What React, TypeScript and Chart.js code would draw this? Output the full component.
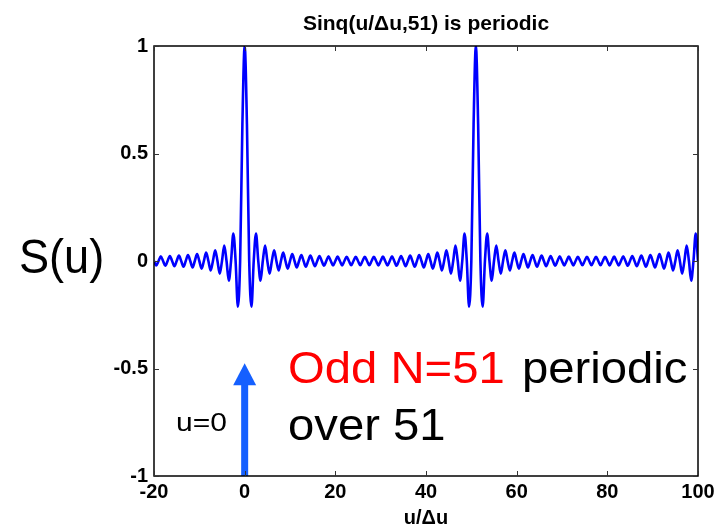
import React, { useEffect, useRef } from "react";
import { Chart, registerables } from "chart.js";

Chart.register(...registerables);

// ---- data ----
const uValues = [
  -20, -19.5, -19, -18.5, -18, -17.5, -17, -16.5, -16, -15.5, -15, -14.5, -14, -13.5, -13, -12.5, -12, -11.5, -11, -10.5,
  -10, -9.5, -9, -8.5, -8, -7.5, -7, -6.5, -6, -5.5, -5, -4.5, -4, -3.5, -3, -2.5, -2, -1.5, -1, -0.5,
  0, 0.5, 1, 1.5, 2, 2.5, 3, 3.5, 4, 4.5, 5, 5.5, 6, 6.5, 7, 7.5, 8, 8.5, 9, 9.5,
  10, 10.5, 11, 11.5, 12, 12.5, 13, 13.5, 14, 14.5, 15, 15.5, 16, 16.5, 17, 17.5, 18, 18.5, 19, 19.5,
  20, 20.5, 21, 21.5, 22, 22.5, 23, 23.5, 24, 24.5, 25, 25.5, 26, 26.5, 27, 27.5, 28, 28.5, 29, 29.5,
  30, 30.5, 31, 31.5, 32, 32.5, 33, 33.5, 34, 34.5, 35, 35.5, 36, 36.5, 37, 37.5, 38, 38.5, 39, 39.5,
  40, 40.5, 41, 41.5, 42, 42.5, 43, 43.5, 44, 44.5, 45, 45.5, 46, 46.5, 47, 47.5, 48, 48.5, 49, 49.5,
  50, 50.5, 51, 51.5, 52, 52.5, 53, 53.5, 54, 54.5, 55, 55.5, 56, 56.5, 57, 57.5, 58, 58.5, 59, 59.5,
  60, 60.5, 61, 61.5, 62, 62.5, 63, 63.5, 64, 64.5, 65, 65.5, 66, 66.5, 67, 67.5, 68, 68.5, 69, 69.5,
  70, 70.5, 71, 71.5, 72, 72.5, 73, 73.5, 74, 74.5, 75, 75.5, 76, 76.5, 77, 77.5, 78, 78.5, 79, 79.5,
  80, 80.5, 81, 81.5, 82, 82.5, 83, 83.5, 84, 84.5, 85, 85.5, 86, 86.5, 87, 87.5, 88, 88.5, 89, 89.5,
  90, 90.5, 91, 91.5, 92, 92.5, 93, 93.5, 94, 94.5, 95, 95.5, 96, 96.5, 97, 97.5, 98, 98.5, 99, 99.5,
  100,
];

const sValues = [
  0, -0.021, 0, 0.0216, 0, -0.0223, 0, 0.0231, 0, -0.024, 0, 0.0252, 0, -0.0265, 0, 0.0282, 0, -0.0301, 0, 0.0325,
  0, -0.0355, 0, 0.0392, 0, -0.044, 0, 0.0503, 0, -0.059, 0, 0.0716, 0, -0.0917, 0, 0.1278, 0, -0.2125, 0, 0.637,
  1, 0.637, 0, -0.2125, 0, 0.1278, 0, -0.0917, 0, 0.0716, 0, -0.059, 0, 0.0503, 0, -0.044, 0, 0.0392, 0, -0.0355,
  0, 0.0325, 0, -0.0301, 0, 0.0282, 0, -0.0265, 0, 0.0252, 0, -0.024, 0, 0.0231, 0, -0.0223, 0, 0.0216, 0, -0.021,
  0, 0.0206, 0, -0.0202, 0, 0.0199, 0, -0.0198, 0, 0.0196, 0, -0.0196, 0, 0.0196, 0, -0.0198, 0, 0.0199, 0, -0.0202,
  0, 0.0206, 0, -0.021, 0, 0.0216, 0, -0.0223, 0, 0.0231, 0, -0.024, 0, 0.0252, 0, -0.0265, 0, 0.0282, 0, -0.0301,
  0, 0.0325, 0, -0.0355, 0, 0.0392, 0, -0.044, 0, 0.0503, 0, -0.059, 0, 0.0716, 0, -0.0917, 0, 0.1278, 0, -0.2125,
  0, 0.637, 1, 0.637, 0, -0.2125, 0, 0.1278, 0, -0.0917, 0, 0.0716, 0, -0.059, 0, 0.0503, 0, -0.044, 0, 0.0392,
  0, -0.0355, 0, 0.0325, 0, -0.0301, 0, 0.0282, 0, -0.0265, 0, 0.0252, 0, -0.024, 0, 0.0231, 0, -0.0223, 0, 0.0216,
  0, -0.021, 0, 0.0206, 0, -0.0202, 0, 0.0199, 0, -0.0198, 0, 0.0196, 0, -0.0196, 0, 0.0196, 0, -0.0198, 0, 0.0199,
  0, -0.0202, 0, 0.0206, 0, -0.021, 0, 0.0216, 0, -0.0223, 0, 0.0231, 0, -0.024, 0, 0.0252, 0, -0.0265, 0, 0.0282,
  0, -0.0301, 0, 0.0325, 0, -0.0355, 0, 0.0392, 0, -0.044, 0, 0.0503, 0, -0.059, 0, 0.0716, 0, -0.0917, 0, 0.1278,
  0,
];

const xTicks = [-20, 0, 20, 40, 60, 80, 100];
const yTicks = [-1, -0.5, 0, 0.5, 1];

const titleText = "Sinq(u/\u0394u,51) is periodic";
const xLabel = "u/\u0394u";
const yLabel = "S(u)";
const arrowLabel = "u=0";
const noteRed = "Odd N=51";
const noteBlack1 = "periodic";
const noteBlack2 = "over 51";

// arrow: at u = 0, from the bottom of the axes up to this value
const arrowU = 0;
const arrowFrom = -1;
const arrowTo = -0.475;

// ---- styles ----
const SANS = "'Liberation Sans', Arial, Helvetica, sans-serif";
const CURVE_COLOR = "#0000ff";
const ARROW_COLOR = "#1560ff";

const overlayPlugin = {
  id: "overlay",
  afterDatasetsDraw(chart: any) {
    const { ctx, chartArea } = chart;
    const { left, right, top, bottom } = chartArea;
    const xs = chart.scales.x;
    const ys = chart.scales.y;
    ctx.save();

    // arrow at u=0
    const ax = xs.getPixelForValue(arrowU);
    const ay0 = ys.getPixelForValue(arrowFrom);
    const ay1 = ys.getPixelForValue(arrowTo);
    const headH = 22;
    const headW = 23;
    const shaftW = 7;
    ctx.fillStyle = ARROW_COLOR;
    ctx.fillRect(ax - shaftW / 2, ay1 + headH - 1, shaftW, ay0 - (ay1 + headH - 1));
    ctx.beginPath();
    ctx.moveTo(ax, ay1);
    ctx.lineTo(ax + headW / 2, ay1 + headH);
    ctx.lineTo(ax - headW / 2, ay1 + headH);
    ctx.closePath();
    ctx.fill();

    // box
    ctx.strokeStyle = "#000";
    ctx.lineWidth = 1.5;
    ctx.strokeRect(left, top, right - left, bottom - top);

    // inward ticks on all four sides
    ctx.lineWidth = 1;
    ctx.strokeStyle = "#333";
    const tl = 5;
    ctx.beginPath();
    xTicks.forEach((v) => {
      const px = Math.round(xs.getPixelForValue(v)) + 0.5;
      ctx.moveTo(px, bottom);
      ctx.lineTo(px, bottom - tl);
      ctx.moveTo(px, top);
      ctx.lineTo(px, top + tl);
    });
    yTicks.forEach((v) => {
      const py = Math.round(ys.getPixelForValue(v)) + 0.5;
      ctx.moveTo(left, py);
      ctx.lineTo(left + tl, py);
      ctx.moveTo(right, py);
      ctx.lineTo(right - tl, py);
    });
    ctx.stroke();
    ctx.restore();
  },
  afterDraw(chart: any) {
    const { ctx, chartArea } = chart;
    const { left, right } = chartArea;
    ctx.save();
    ctx.textBaseline = "alphabetic";

    // title
    ctx.fillStyle = "#000";
    ctx.textAlign = "center";
    ctx.font = `bold 21px ${SANS}`;
    ctx.fillText(titleText, (left + right) / 2, 30);

    ctx.textAlign = "left";

    // S(u)
    ctx.save();
    ctx.translate(19, 273);
    ctx.scale(0.94, 1);
    ctx.font = `48px ${SANS}`;
    ctx.fillText(yLabel, 0, 0);
    ctx.restore();

    // u=0
    ctx.save();
    ctx.translate(176, 431);
    ctx.scale(1.2, 1);
    ctx.font = `25px ${SANS}`;
    ctx.fillText(arrowLabel, 0, 0);
    ctx.restore();

    // Odd N=51 periodic / over 51
    ctx.save();
    ctx.translate(288, 383);
    ctx.scale(1.05, 1);
    ctx.font = `45px ${SANS}`;
    ctx.fillStyle = "#ff0000";
    ctx.fillText(noteRed, 0, 0);
    ctx.restore();

    ctx.save();
    ctx.translate(522, 383);
    ctx.scale(1.05, 1);
    ctx.font = `45px ${SANS}`;
    ctx.fillStyle = "#000";
    ctx.fillText(noteBlack1, 0, 0);
    ctx.restore();

    ctx.save();
    ctx.translate(288, 440);
    ctx.scale(1.05, 1);
    ctx.font = `45px ${SANS}`;
    ctx.fillStyle = "#000";
    ctx.fillText(noteBlack2, 0, 0);
    ctx.restore();

    ctx.restore();
  },
};

export default function App() {
  const ref = useRef<HTMLCanvasElement>(null);

  useEffect(() => {
    const canvas = ref.current;
    if (!canvas) return;
    const tickFont = { family: SANS, size: 20, weight: "bold" as const };
    const chart = new Chart(canvas, {
      type: "line",
      data: {
        datasets: [
          {
            data: uValues.map((u, i) => ({ x: u, y: sValues[i] })),
            borderColor: CURVE_COLOR,
            borderWidth: 2.6,
            pointRadius: 0,
            fill: false,
            cubicInterpolationMode: "monotone",
          },
        ],
      },
      options: {
        responsive: false,
        animation: false,
        devicePixelRatio: 1,
        layout: { padding: { top: 46, right: 22, bottom: 0, left: 0 } },
        plugins: {
          legend: { display: false },
          tooltip: { enabled: false },
          title: { display: false },
        },
        scales: {
          x: {
            type: "linear",
            min: -20,
            max: 100,
            afterBuildTicks: (s: any) => {
              s.ticks = xTicks.map((v) => ({ value: v }));
            },
            afterFit: (s: any) => {
              s.height = 50;
            },
            ticks: {
              font: tickFont,
              color: "#000",
              padding: 4,
              maxRotation: 0,
              autoSkip: false,
              callback: (v: any) => String(v),
            },
            grid: { display: false, drawTicks: false },
            border: { display: false },
            title: {
              display: true,
              text: xLabel,
              color: "#000",
              font: { family: SANS, size: 20, weight: "bold", lineHeight: 0.8 },
              padding: 0,
            },
          },
          y: {
            type: "linear",
            min: -1,
            max: 1,
            afterBuildTicks: (s: any) => {
              s.ticks = yTicks.map((v) => ({ value: v }));
            },
            afterFit: (s: any) => {
              s.width = 154;
            },
            ticks: {
              font: tickFont,
              color: "#000",
              padding: 6,
              autoSkip: false,
              callback: (v: any) => String(v),
            },
            grid: { display: false, drawTicks: false },
            border: { display: false },
          },
        },
      } as any,
      plugins: [overlayPlugin],
    });
    return () => chart.destroy();
  }, []);

  return (
    <div style={{ position: "absolute", left: 0, top: 0, width: 720, height: 526, background: "#fff" }}>
      <canvas ref={ref} width={720} height={526} style={{ display: "block" }} />
    </div>
  );
}
